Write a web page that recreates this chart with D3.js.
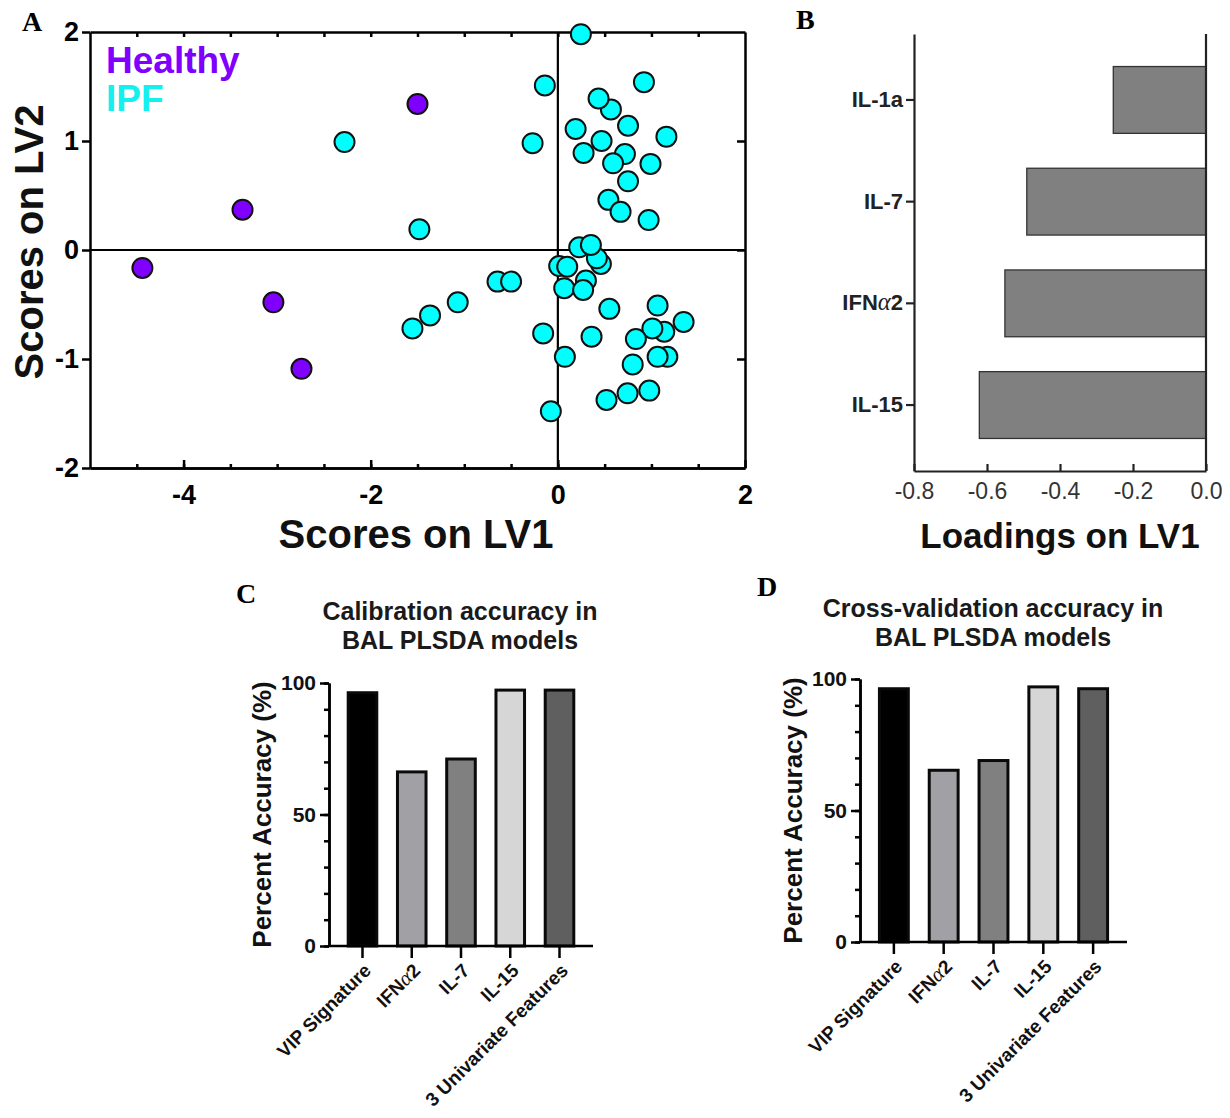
<!DOCTYPE html>
<html>
<head>
<meta charset="utf-8">
<script src="https://cdn.jsdelivr.net/npm/d3@7"></script>
<style>
  html, body { margin: 0; padding: 0; background: #fff; }
  svg { display: block; font-family: Arial, "Liberation Sans", Helvetica, sans-serif; }
</style>
</head>
<body>
<svg id="fig" width="1230" height="1118"></svg>
<script>
// ---------- Panel A: PLSDA scores ----------
const healthyLV1 = [-4.44, -3.37, -3.04, -2.74, -1.50];
const healthyLV2 = [-0.165, 0.37, -0.48, -1.09, 1.34];

const ipfLV1 = [-2.28, 0.246, -0.139, -0.27, -1.48, 0.92, 0.567, 0.435, 0.75, 0.19,
                1.16, 0.467, 0.275, 0.717, 0.59, 0.99, 0.75, 0.54, 0.67, 0.97,
                0.228, 0.46, 0.417, 0.353, 0.014, 0.10, -0.645, -0.50, 0.30, 0.068,
                0.27, -1.07, -1.366, -1.554, 0.55, 1.066, 1.344, 1.137, 1.01, 0.834,
                0.36, -0.157, 0.075, 0.80, 1.17, 1.066, 0.52, 0.745, 0.977, -0.075];
const ipfLV2 = [0.99, 1.98, 1.51, 0.98, 0.19, 1.54, 1.29, 1.39, 1.14, 1.11,
                1.04, 1.00, 0.89, 0.88, 0.795, 0.79, 0.63, 0.46, 0.35, 0.275,
                0.025, -0.128, -0.076, 0.046, -0.147, -0.153, -0.29, -0.29, -0.28, -0.35,
                -0.367, -0.48, -0.60, -0.72, -0.54, -0.51, -0.66, -0.75, -0.72, -0.817,
                -0.795, -0.765, -0.98, -1.05, -0.98, -0.98, -1.376, -1.315, -1.29, -1.48];

const lv1MajorTicks = [-4, -2, 0, 2];
const lv1MinorTicks = [-4.5, -4, -3.5, -3, -2.5, -2, -1.5, -1, -0.5, 0, 0.5, 1, 1.5];
const lv2Ticks = [-2, -1, 0, 1, 2];
const groupNames = ["Healthy", "IPF"];

// ---------- Panel B: LV1 loadings ----------
const loadingCytokines = ["IL-1a", "IL-7", "IFNα2", "IL-15"];
const loadingValues = [-0.254, -0.491, -0.551, -0.621];
const loadingTicks = [-0.8, -0.6, -0.4, -0.2, 0];

// ---------- Panels C & D: model accuracy ----------
const modelNames = ["VIP Signature", "IFNα2", "IL-7", "IL-15", "3 Univariate Features"];
const calibrationAccuracy = [96.3, 66.2, 71.1, 97.3, 97.3];
const crossValidationAccuracy = [96.3, 65.3, 69.0, 97.0, 96.3];
const accuracyMajorTicks = [0, 50, 100];
const accuracyMinorTicks = [0, 10, 20, 30, 40, 50, 60, 70, 80, 90, 100];

const modelFills = ["#000000", "#a1a1a5", "#808080", "#d6d6d6", "#5f5f5f"];

const svg = d3.select("#fig");
const FONT = 'Arial, "Liberation Sans", Helvetica, sans-serif';
const SERIF = '"Times New Roman", "Liberation Serif", serif';

function styleAxis(g, width, color) {
  g.attr("font-family", FONT);
  g.select(".domain").attr("stroke", color || "#000").attr("stroke-width", width);
  g.selectAll(".tick line").attr("stroke", color || "#000").attr("stroke-width", width);
  return g;
}

// replace the Greek alpha in a label with a serif italic glyph
function greekify(textSel) {
  textSel.each(function () {
    const t = d3.select(this);
    const s = t.text();
    if (s.indexOf("α") < 0) return;
    const parts = s.split("α");
    t.text(null);
    t.append("tspan").text(parts[0]);
    t.append("tspan").attr("font-family", SERIF).attr("font-style", "italic")
      .attr("font-weight", "normal").attr("font-size", "1.12em").text("α");
    t.append("tspan").text(parts[1]);
  });
}

function panelLetter(x, y, letter) {
  svg.append("text").attr("x", x).attr("y", y)
    .attr("font-family", SERIF).attr("font-weight", "bold").attr("font-size", 28)
    .attr("fill", "#000").text(letter);
}

// ================= Panel A =================
(function () {
  const x = d3.scaleLinear().domain([-5, 2]).range([90, 745]);
  const y = d3.scaleLinear().domain([-2, 2]).range([468, 32]);
  const g = svg.append("g");

  // zero lines
  g.append("line").attr("x1", x(-5)).attr("x2", x(2)).attr("y1", y(0)).attr("y2", y(0))
    .attr("stroke", "#000").attr("stroke-width", 2.2);
  g.append("line").attr("x1", x(0)).attr("x2", x(0)).attr("y1", y(-2)).attr("y2", y(2))
    .attr("stroke", "#000").attr("stroke-width", 2.2);

  // frame and ticks
  styleAxis(g.append("g").attr("transform", `translate(0,${y(2)})`)
    .call(d3.axisTop(x).tickValues(lv1MinorTicks).tickSize(-5).tickSizeOuter(0).tickFormat("")), 2.5);
  styleAxis(g.append("g").attr("transform", `translate(${x(2)},0)`)
    .call(d3.axisRight(y).tickValues([-1, 0, 1]).tickSize(-8).tickSizeOuter(0).tickFormat("")), 2.5);
  styleAxis(g.append("g").attr("transform", `translate(0,${y(-2)})`)
    .call(d3.axisBottom(x).tickValues(lv1MinorTicks).tickSize(-4).tickSizeOuter(0).tickFormat("")), 2.5);
  const xb = styleAxis(g.append("g").attr("transform", `translate(0,${y(-2)})`)
    .call(d3.axisBottom(x).tickValues(lv1MajorTicks).tickSizeInner(-8).tickSizeOuter(0)
      .tickPadding(17).tickFormat(d => String(d))), 2.5);
  xb.selectAll("text").attr("font-size", 27).attr("font-weight", "bold").attr("fill", "#000");
  const yl = styleAxis(g.append("g").attr("transform", `translate(${x(-5)},0)`)
    .call(d3.axisLeft(y).tickValues(lv2Ticks).tickSizeInner(8).tickSizeOuter(0)
      .tickPadding(3).tickFormat(d => String(d))), 2.5);
  yl.selectAll("text").attr("font-size", 27).attr("font-weight", "bold").attr("fill", "#000");

  // points
  const pts = g.append("g");
  pts.selectAll("circle.h").data(healthyLV1).join("circle").attr("class", "h")
    .attr("cx", d => x(d)).attr("cy", (d, i) => y(healthyLV2[i])).attr("r", 10)
    .attr("fill", "#8000ff").attr("stroke", "#111").attr("stroke-width", 2);
  pts.selectAll("circle.p").data(ipfLV1).join("circle").attr("class", "p")
    .attr("cx", d => x(d)).attr("cy", (d, i) => y(ipfLV2[i])).attr("r", 10)
    .attr("fill", "#00ffff").attr("stroke", "#111").attr("stroke-width", 2);

  // legend
  const legendColors = ["#8000ff", "#14f0f0"];
  g.selectAll("text.leg").data(groupNames).join("text").attr("class", "leg")
    .attr("x", 106).attr("y", (d, i) => 73 + i * 38)
    .attr("font-size", 37).attr("font-weight", "bold")
    .attr("fill", (d, i) => legendColors[i]).text(d => d);

  // titles
  g.append("text").attr("x", 416).attr("y", 548).attr("text-anchor", "middle")
    .attr("font-size", 40).attr("font-weight", "bold").attr("fill", "#111").text("Scores on LV1");
  g.append("text").attr("transform", "translate(43,242) rotate(-90)").attr("text-anchor", "middle")
    .attr("font-size", 40).attr("font-weight", "bold").attr("fill", "#111").text("Scores on LV2");

  panelLetter(22, 31, "A");
})();

// ================= Panel B =================
(function () {
  const x = d3.scaleLinear().domain([-0.8, 0]).range([914, 1206]);
  const y = d3.scaleBand().domain(loadingCytokines).range([34, 471])
    .paddingInner(0.343).paddingOuter(0.32);
  const g = svg.append("g");

  g.selectAll("rect").data(loadingValues).join("rect")
    .attr("x", d => x(d)).attr("width", d => x(0) - x(d))
    .attr("y", (d, i) => y(loadingCytokines[i])).attr("height", y.bandwidth())
    .attr("fill", "#808080").attr("stroke", "#333").attr("stroke-width", 1.3);

  // zero line
  g.append("line").attr("x1", x(0)).attr("x2", x(0)).attr("y1", 34).attr("y2", 471)
    .attr("stroke", "#222").attr("stroke-width", 2.2);

  const xb = styleAxis(g.append("g").attr("transform", "translate(0,471)")
    .call(d3.axisBottom(x).tickValues(loadingTicks).tickSizeInner(-7).tickSizeOuter(0)
      .tickPadding(12).tickFormat(d => d.toFixed(1))), 2.2, "#222");
  xb.selectAll("text").attr("font-size", 23).attr("fill", "#333");

  const yl = styleAxis(g.append("g").attr("transform", "translate(914,0)")
    .call(d3.axisLeft(y).tickSizeInner(8).tickSizeOuter(0).tickPadding(3)), 2.2, "#222");
  yl.selectAll("text").attr("font-size", 22).attr("font-weight", "bold").attr("fill", "#222");
  greekify(yl.selectAll("text"));

  g.append("text").attr("x", 1060).attr("y", 548).attr("text-anchor", "middle")
    .attr("font-size", 35).attr("font-weight", "bold").attr("fill", "#111").text("Loadings on LV1");

  panelLetter(796, 29, "B");
})();

// ================= Panels C & D =================
function accuracyPanel(opts) {
  const x = d3.scaleBand().domain(modelNames).range([opts.x0, opts.x1])
    .paddingInner(0.42).paddingOuter(0.39);
  const y = d3.scaleLinear().domain([0, 100]).range([opts.yBottom, opts.yTop]);
  const g = svg.append("g");

  g.selectAll("rect").data(opts.values).join("rect")
    .attr("x", (d, i) => x(modelNames[i])).attr("width", x.bandwidth())
    .attr("y", d => y(d)).attr("height", d => y(0) - y(d))
    .attr("fill", (d, i) => modelFills[i]).attr("stroke", "#0a0a0a").attr("stroke-width", 3);

  styleAxis(g.append("g").attr("transform", `translate(${opts.x0},0)`)
    .call(d3.axisLeft(y).tickValues(accuracyMinorTicks).tickSize(5).tickSizeOuter(0).tickFormat("")), 2.5);
  const yl = styleAxis(g.append("g").attr("transform", `translate(${opts.x0},0)`)
    .call(d3.axisLeft(y).tickValues(accuracyMajorTicks).tickSizeInner(9).tickSizeOuter(0)
      .tickPadding(4).tickFormat(d => String(d))), 2.5);
  yl.selectAll("text").attr("font-size", 21).attr("font-weight", "bold").attr("fill", "#111");

  const xb = styleAxis(g.append("g").attr("transform", `translate(0,${opts.yBottom})`)
    .call(d3.axisBottom(x).tickSizeInner(12).tickSizeOuter(0)), 2.5);
  xb.select(".domain").attr("d", `M${opts.x0},0H${opts.x1}`);
  xb.selectAll("text")
    .attr("font-size", 19).attr("font-weight", "bold").attr("fill", "#111")
    .attr("text-anchor", "end").attr("y", 0).attr("dy", "0.35em")
    .attr("transform", "translate(5,21) rotate(-45)");
  greekify(xb.selectAll("text"));

  g.selectAll("text.title").data(opts.title).join("text").attr("class", "title")
    .attr("x", opts.titleX).attr("y", (d, i) => opts.titleY + i * 29)
    .attr("text-anchor", "middle").attr("font-size", 25).attr("font-weight", "bold")
    .attr("fill", "#1a1a1a").text(d => d);

  g.append("text")
    .attr("transform", `translate(${opts.yTitleX},${(opts.yTop + opts.yBottom) / 2}) rotate(-90)`)
    .attr("text-anchor", "middle").attr("font-size", 26).attr("font-weight", "bold")
    .attr("fill", "#111").text("Percent Accuracy (%)");

  panelLetter(opts.letterX, opts.letterY, opts.letter);
}

accuracyPanel({
  values: calibrationAccuracy, x0: 329, x1: 593, yTop: 683, yBottom: 946,
  title: ["Calibration accuracy in", "BAL PLSDA models"], titleX: 460, titleY: 620,
  yTitleX: 271, letter: "C", letterX: 236, letterY: 603
});
accuracyPanel({
  values: crossValidationAccuracy, x0: 860, x1: 1127, yTop: 679, yBottom: 942,
  title: ["Cross-validation accuracy in", "BAL PLSDA models"], titleX: 993, titleY: 617,
  yTitleX: 802, letter: "D", letterX: 757, letterY: 596
});
</script>
</body>
</html>
